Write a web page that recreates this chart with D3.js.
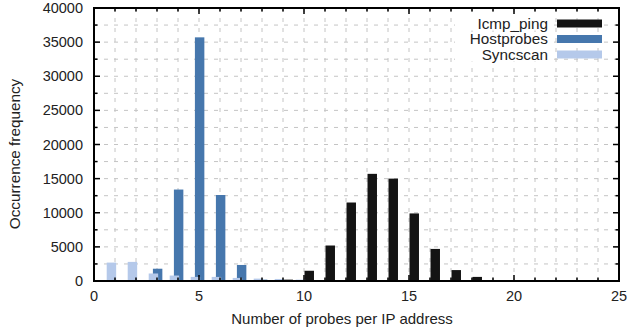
<!DOCTYPE html>
<html><head><meta charset="utf-8">
<script src="https://cdn.jsdelivr.net/npm/d3@7"></script>
<style>body{margin:0;background:#fff}svg{display:block}text{font-family:"Liberation Sans",Arial,sans-serif;fill:#222}</style>
</head><body>
<svg id="c" width="631" height="333"></svg>
<script>
const xs = [0,1,2,3,4,5,6,7,8,9,10,11,12,13,14,15,16,17,18,19,20,21,22,23,24];
const icmpPing   = [0,0,0,0,0,0,0,0,100,200,1500,5200,11500,15700,15000,9900,4700,1600,600,100,50,30,20,10,10];
const hostprobes = [0,0,0,1800,13400,35700,12600,2350,200,100,0,0,0,0,0,0,0,0,0,0,0,0,0,0,0];
const syncscan   = [0,2700,2800,1100,800,600,600,450,350,300,200,100,100,0,0,0,0,0,0,0,0,0,0,0,0];
const seriesNames = ["Icmp_ping","Hostprobes","Syncscan"];
const xTicks = [0,5,10,15,20,25];
const yTicks = [0,5000,10000,15000,20000,25000,30000,35000,40000];

const colors = {"Icmp_ping":"#141414","Hostprobes":"#4677ad","Syncscan":"#b5c9ea"};
const offsets = {"Icmp_ping":0.25,"Hostprobes":0.03,"Syncscan":-0.17};
const bw = 0.45;

const svg = d3.select("#c");
const L=94,R=619,T=8,B=281;
const x = d3.scaleLinear().domain([0,25]).range([L,R]);
const y = d3.scaleLinear().domain([0,40000]).range([B,T]);

// grid
const g = svg.append("g");
d3.range(1,25).forEach(v=>g.append("line").attr("x1",x(v)).attr("x2",x(v)).attr("y1",T).attr("y2",B)
  .attr("stroke","#c4c4c4").attr("stroke-dasharray","4,6"));
d3.range(2500,40000,2500).forEach(v=>g.append("line").attr("x1",L).attr("x2",R).attr("y1",y(v)).attr("y2",y(v))
  .attr("stroke","#c4c4c4").attr("stroke-dasharray","4,6"));

// bars
const data = {"Icmp_ping":icmpPing,"Hostprobes":hostprobes,"Syncscan":syncscan};
seriesNames.forEach(s=>{
  svg.append("g").selectAll("rect").data(xs.map((v,i)=>({x:v,v:data[s][i]})).filter(d=>d.v>0))
    .join("rect")
    .attr("x",d=>x(d.x+offsets[s]-bw/2))
    .attr("width",x(bw)-x(0))
    .attr("y",d=>y(d.v))
    .attr("height",d=>B-y(d.v))
    .attr("fill",colors[s]);
});

// axes (ticks inward, mirrored)
const ax = svg.append("g");
d3.range(0,26).forEach(v=>{
  const len = v%5===0?6:3.5;
  ax.append("line").attr("x1",x(v)).attr("x2",x(v)).attr("y1",B).attr("y2",B-len).attr("stroke","#000").attr("stroke-width",1.5);
  ax.append("line").attr("x1",x(v)).attr("x2",x(v)).attr("y1",T).attr("y2",T+len).attr("stroke","#000").attr("stroke-width",1.5);
});
d3.range(0,40001,2500).forEach(v=>{
  const len = v%5000===0?6:3.5;
  ax.append("line").attr("x1",L).attr("x2",L+len).attr("y1",y(v)).attr("y2",y(v)).attr("stroke","#000").attr("stroke-width",1.5);
  ax.append("line").attr("x1",R).attr("x2",R-len).attr("y1",y(v)).attr("y2",y(v)).attr("stroke","#000").attr("stroke-width",1.5);
});
ax.append("rect").attr("x",L).attr("y",T).attr("width",R-L).attr("height",B-T).attr("fill","none").attr("stroke","#000").attr("stroke-width",2);

xTicks.forEach(v=>svg.append("text").attr("x",x(v)).attr("y",B+20).attr("text-anchor","middle").attr("font-size",14.5).text(v));
yTicks.forEach(v=>svg.append("text").attr("x",L-11).attr("y",y(v)+5).attr("text-anchor","end").attr("font-size",14.5).text(v));

svg.append("text").attr("x",342).attr("y",324).attr("text-anchor","middle").attr("font-size",15).text("Number of probes per IP address");
svg.append("text").attr("transform",`translate(20,154) rotate(-90)`).attr("text-anchor","middle").attr("font-size",15.3).text("Occurrence frequency");

// legend
const lg = svg.append("g");
seriesNames.forEach((s,i)=>{
  const cy = 23.5 + i*15.5;
  lg.append("rect").attr("x",455).attr("y",cy-7).attr("width",95).attr("height",14).attr("fill","#fff");
  lg.append("text").attr("x",548).attr("y",cy+5).attr("text-anchor","end").attr("font-size",15.3).text(s);
  lg.append("rect").attr("x",557).attr("y",cy-4).attr("width",45).attr("height",8).attr("fill",colors[s]);
});
</script>
</body></html>
